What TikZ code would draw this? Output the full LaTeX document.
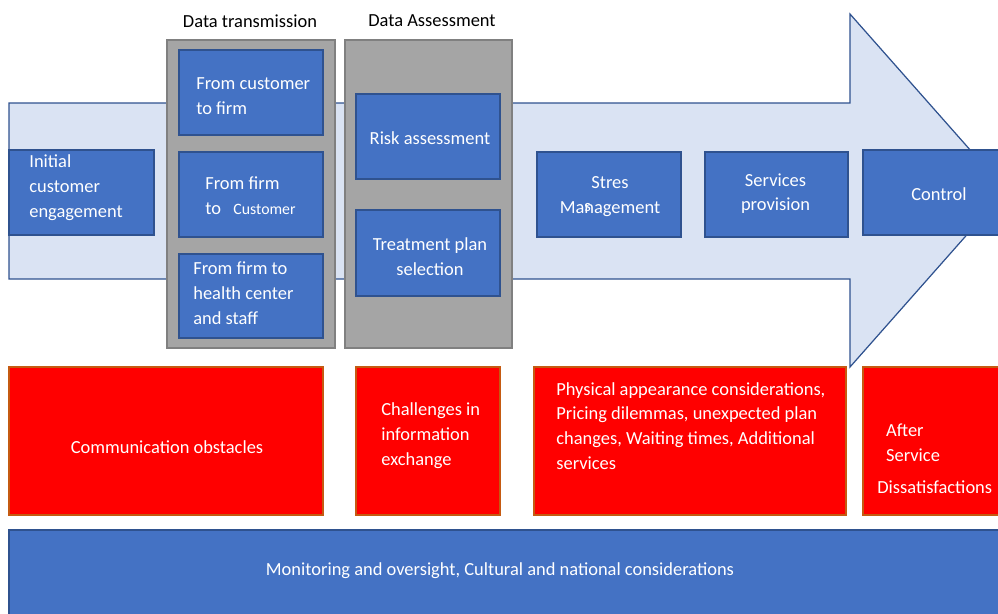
\documentclass[tikz,border=0pt]{standalone}
\usepackage{fontspec}
\setmainfont{Carlito}
\usetikzlibrary{positioning}
\definecolor{c0}{HTML}{4472C4}% blue boxes
\definecolor{c1}{HTML}{2F528F}% blue borders
\definecolor{c2}{HTML}{DAE3F3}% big arrow
\definecolor{c3}{HTML}{A5A5A5}% grey groups
\definecolor{c4}{HTML}{FF0000}% red boxes
\definecolor{c5}{HTML}{C55A11}% red borders
\tikzset{%
  stage/.style={rectangle,draw=c1,fill=c0,line width=0.8pt,
    minimum width=2.88cm,minimum height=1.7cm},
  group/.style={rectangle,draw=gray,fill=c3,line width=0.8pt,
    minimum width=3.36cm,minimum height=6.16cm},
  issue/.style={rectangle,draw=c5,fill=c4,line width=0.8pt,
    minimum width=2.88cm,minimum height=2.96cm},
  txt/.style={text=white,align=#1,inner sep=0pt,yshift=-1.2pt,
    font=\fontsize{10.5}{14.2}\selectfont},
  txt/.default=left
}
\begin{document}
\begin{tikzpicture}[x=0.02cm,y=-0.02cm]
  \useasboundingbox (0,0) rectangle (998,613);
  \clip (0,0) rectangle (998,613);
  %% Arrow
  \coordinate (p0) at (9,103);
  \coordinate (p1) at (850,103);
  \coordinate (p2) at (850,14);
  \coordinate (p3) at (1006,190.5);
  \coordinate (p4) at (850,367);
  \coordinate (p5) at (850,279);
  \coordinate (p6) at (9,279);
  \filldraw[fill=c2,draw=c1,line width=0.7pt] (p0) -- (p1) -- (p2) -- (p3) -- (p4) -- (p5) -- (p6) -- cycle;%
  %
  \node[stage,minimum width=2.9cm] (init) at (81.5,192.5) {};
  \node[txt,anchor=west] (init-t) at (29,185.5) {Initial\\customer\\engagement};
  %% Data transmission
  \node[txt=center,text=black] (trans-h) at (250,19) {Data transmission};
  \node[group] (trans) at (251,194) {};
  \node[stage] (t1) at (251,92.5) {};
  \node[stage] (t2) at (251,194.5) {};
  \node[stage,minimum height=1.68cm] (t3) at (251,296) {};
  \node[txt,anchor=west] (t1-t) at (196,94) {From customer\\to firm};
  \node[txt,anchor=west] (t2-t) at (205,193.5) {From firm\\to\hspace{7pt}{\fontsize{9}{11}\selectfont Customer}};
  \node[txt,anchor=west] (t3-t) at (193,291.5) {From firm to\\health center\\and staff};
  %% Data assessment
  \node[txt=center,text=black] (assess-h) at (432,19) {Data Assessment};
  \node[group,minimum width=3.34cm] (assess) at (428.5,194) {};
  \node[stage] (a1) at (428,136.5) {};
  \node[stage,minimum height=1.72cm] (a2) at (428,253) {};
  \node[txt=center] (a1-t) at (430,136) {Risk assessment};
  \node[txt=center] (a2-t) at (430,254.5) {Treatment plan\\selection};
  %% Later stages
  \node[stage] (stress) at (609,194.5) {};
  \node[txt=center] (stress-t) at (610,194.5) {Stres\\Ma\rlap{\raisebox{0.25ex}{\fontsize{9.5}{10}\selectfont s}}nagement};
  \node[stage,minimum width=2.86cm] (serv) at (776.5,194.5) {};
  \node[txt=center] (serv-t) at (775.5,191.5) {Services\\provision};
  \node[stage,minimum width=3.04cm] (ctrl) at (939,192.5) {};
  \node[txt=center] (ctrl-t) at (939,192) {Control};
  %% Issues
  \node[issue,minimum width=6.28cm] (i1) at (166,441) {};
  \node[txt=center] (i1-t) at (167,445) {Communication obstacles};
  \node[issue] (i2) at (428,441) {};
  \node[txt,anchor=west] (i2-t) at (381,433.5) {Challenges in\\information\\exchange};
  \node[issue,minimum width=6.24cm] (i3) at (690,441) {};
  \node[txt,anchor=west] (i3-t) at (556,424) {Physical appearance considerations,\\Pricing dilemmas, unexpected plan\\changes, Waiting times, Additional\\services};
  \node[issue] (i4) at (935,441) {};
  \node[txt,anchor=west] (i4-t) at (877,456.5) {\hspace*{5pt}After\\\hspace*{5pt}Service\\[4pt]Dissatisfactions};
  %% Bottom bar
  \node[stage,minimum width=19.92cm,minimum height=1.8cm] (bar) at (507,575) {};
  \node[txt=center] (bar-t) at (500,569) {Monitoring and oversight, Cultural and national considerations};
\end{tikzpicture}
\end{document}
